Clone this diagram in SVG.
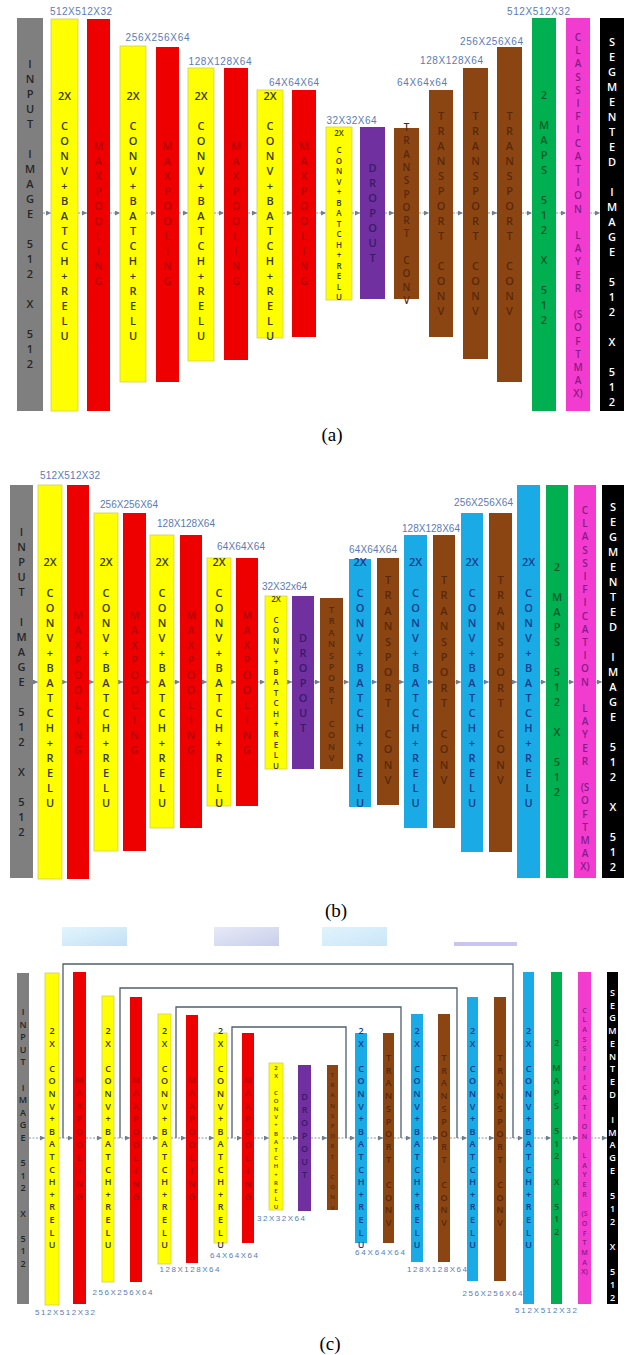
<svg xmlns="http://www.w3.org/2000/svg" width="635" height="1355" viewBox="0 0 635 1355">
<style>
.gry{fill:#7f7f7f}.yel{fill:#ffff00;stroke:#cfcf55;stroke-width:0.8}.red{fill:#ee0000}.pur{fill:#7030a0}.brn{fill:#8b4513}.blu{fill:#1aabe6}.grn{fill:#00b050}.mag{fill:#f23ccf}.blk{fill:#000}
.L{font-family:"Open Sans","Liberation Sans",sans-serif;font-weight:600;text-anchor:middle}
.s11{font-size:11px}.s10{font-size:10px}.s9{font-size:9px}.s8{font-size:8px}.s7{font-size:7px}.s6{font-size:6px}
.cg{fill:#262626}.cy{fill:#3a3a12}.cr{fill:#b80000}.cp{fill:#3a1a6a}.cb{fill:#5a2808}.cl{fill:#123c8c}.cn{fill:#0a5a2a}.cm{fill:#8a1a8a}.cw{fill:#ffffff}
.dim{font-family:"Liberation Sans",sans-serif;font-size:10px;fill:#5b7bb5;text-anchor:middle}
.dimc{font-family:"Liberation Sans",sans-serif;font-size:8px;fill:#5b7bb5;text-anchor:middle}
.cap{font-family:"Liberation Serif",serif;font-size:19px;fill:#000;text-anchor:middle}
.fl{stroke:#8a98a8;stroke-width:1;stroke-dasharray:2 1.5;fill:none;marker-end:url(#ah)}
.sk{stroke:#4f5f70;stroke-width:1.3;fill:none}
</style>
<defs>
<marker id="ah" viewBox="0 0 6 6" refX="6" refY="3" markerWidth="5" markerHeight="5" markerUnits="userSpaceOnUse" orient="auto"><path d="M0,0L6,3L0,6z" fill="#6f7f90"/></marker>
<linearGradient id="g1" x1="0" y1="0" x2="1" y2="1"><stop offset="0" stop-color="#e2f5fd"/><stop offset="1" stop-color="#c4e0f5"/></linearGradient>
<linearGradient id="g2" x1="0" y1="0" x2="1" y2="1"><stop offset="0" stop-color="#e6e9f6"/><stop offset="1" stop-color="#c9cfec"/></linearGradient>
<linearGradient id="g3" x1="0" y1="0" x2="1" y2="1"><stop offset="0" stop-color="#e0f3fc"/><stop offset="1" stop-color="#cbe6f8"/></linearGradient>
</defs>
<rect width="635" height="1355" fill="#fff"/>

<g id="connectors">
<g id="flow-a">
<line class="fl" x1="43" y1="213" x2="51" y2="213"/><line class="fl" x1="78" y1="213" x2="87" y2="213"/><line class="fl" x1="110" y1="213" x2="120" y2="213"/><line class="fl" x1="146" y1="213" x2="156" y2="213"/><line class="fl" x1="179" y1="213" x2="188" y2="213"/><line class="fl" x1="214" y1="213" x2="224" y2="213"/><line class="fl" x1="248" y1="213" x2="257" y2="213"/><line class="fl" x1="283" y1="213" x2="292" y2="213"/><line class="fl" x1="316" y1="213" x2="326" y2="213"/><line class="fl" x1="352" y1="213" x2="360" y2="213"/><line class="fl" x1="385" y1="213" x2="394" y2="213"/><line class="fl" x1="419" y1="213" x2="429" y2="213"/><line class="fl" x1="453" y1="213" x2="463" y2="213"/><line class="fl" x1="488" y1="213" x2="497" y2="213"/><line class="fl" x1="522" y1="213" x2="532" y2="213"/><line class="fl" x1="556" y1="213" x2="566" y2="213"/><line class="fl" x1="590" y1="213" x2="600" y2="213"/>
</g>
<g id="flow-b">
<line class="fl" x1="33" y1="682" x2="38" y2="682"/><line class="fl" x1="62" y1="682" x2="67" y2="682"/><line class="fl" x1="89" y1="682" x2="94" y2="682"/><line class="fl" x1="118" y1="682" x2="123" y2="682"/><line class="fl" x1="146" y1="682" x2="150" y2="682"/><line class="fl" x1="174" y1="682" x2="180" y2="682"/><line class="fl" x1="202" y1="682" x2="207" y2="682"/><line class="fl" x1="231" y1="682" x2="236" y2="682"/><line class="fl" x1="258" y1="682" x2="265" y2="682"/><line class="fl" x1="287" y1="682" x2="292" y2="682"/><line class="fl" x1="314" y1="682" x2="320" y2="682"/><line class="fl" x1="343" y1="682" x2="349" y2="682"/><line class="fl" x1="371" y1="682" x2="377" y2="682"/><line class="fl" x1="399" y1="682" x2="404" y2="682"/><line class="fl" x1="427" y1="682" x2="433" y2="682"/><line class="fl" x1="455" y1="682" x2="461" y2="682"/><line class="fl" x1="483" y1="682" x2="489" y2="682"/><line class="fl" x1="512" y1="682" x2="517" y2="682"/><line class="fl" x1="540" y1="682" x2="546" y2="682"/><line class="fl" x1="568" y1="682" x2="574" y2="682"/><line class="fl" x1="596" y1="682" x2="602" y2="682"/>
</g>
<g id="flow-c">
<line class="fl" x1="29" y1="1138" x2="45" y2="1138"/><line class="fl" x1="59" y1="1138" x2="73" y2="1138"/><line class="fl" x1="86" y1="1138" x2="102" y2="1138"/><line class="fl" x1="114" y1="1138" x2="130" y2="1138"/><line class="fl" x1="142" y1="1138" x2="158" y2="1138"/><line class="fl" x1="171" y1="1138" x2="186" y2="1138"/><line class="fl" x1="198" y1="1138" x2="214" y2="1138"/><line class="fl" x1="227" y1="1138" x2="242" y2="1138"/><line class="fl" x1="254" y1="1138" x2="269" y2="1138"/><line class="fl" x1="283" y1="1138" x2="298" y2="1138"/><line class="fl" x1="311" y1="1138" x2="327" y2="1138"/><line class="fl" x1="338" y1="1138" x2="355" y2="1138"/><line class="fl" x1="367" y1="1138" x2="383" y2="1138"/><line class="fl" x1="394" y1="1138" x2="411" y2="1138"/><line class="fl" x1="423" y1="1138" x2="438" y2="1138"/><line class="fl" x1="450" y1="1138" x2="467" y2="1138"/><line class="fl" x1="478" y1="1138" x2="494" y2="1138"/><line class="fl" x1="506" y1="1138" x2="523" y2="1138"/><line class="fl" x1="534" y1="1138" x2="551" y2="1138"/><line class="fl" x1="562" y1="1138" x2="578" y2="1138"/><line class="fl" x1="591" y1="1138" x2="607" y2="1138"/>
</g>
<g id="skips-c">
<path class="sk" d="M63 1138V964H513V1138"/>
<path class="sk" d="M120 1138V988H457V1138"/>
<path class="sk" d="M176 1138V1007H401V1138"/>
<path class="sk" d="M232 1138V1027H346V1138"/>
</g>
</g>

<!-- ===== Panel (a) ===== -->
<g id="a-input"><rect class="gry" x="17" y="18" width="26" height="393"/><text class="L s11 cg" transform="translate(30)" x="0 0 0 0 0 0 0 0 0 0 0 0 0 0 0 0 0 0 0 0 0 0 0 0" y="68 83 98 113 128 158 173 188 203 218 248 263 278 308 338 353 368">INPUTIMAGE512X512</text></g>
<g id="a-conv1"><rect class="yel" x="51" y="19" width="27" height="392"/><text class="L s11 cy" x="64.5" y="100">2X</text><text class="L s11 cy" transform="translate(64.5)" x="0 0 0 0 0 0 0 0 0 0 0 0 0 0 0 0 0 0 0 0 0 0 0 0" y="130 145 160 175 190 205 220 235 250 265 280 295 310 325 340">CONV+BATCH+RELU</text></g>
<g id="a-pool1"><rect class="red" x="87" y="19" width="23" height="392"/><text class="L s11 cr" transform="translate(98.5)" x="0 0 0 0 0 0 0 0 0 0 0 0 0 0 0 0 0 0 0 0 0 0 0 0" y="150 165 180 195 210 225 240 255 270 285">MAXPOOLING</text></g>
<g id="a-conv2"><rect class="yel" x="120" y="46" width="26" height="336"/><text class="L s11 cy" x="133" y="100">2X</text><text class="L s11 cy" transform="translate(133)" x="0 0 0 0 0 0 0 0 0 0 0 0 0 0 0 0 0 0 0 0 0 0 0 0" y="130 145 160 175 190 205 220 235 250 265 280 295 310 325 340">CONV+BATCH+RELU</text></g>
<g id="a-pool2"><rect class="red" x="156" y="47" width="23" height="335"/><text class="L s11 cr" transform="translate(167.5)" x="0 0 0 0 0 0 0 0 0 0 0 0 0 0 0 0 0 0 0 0 0 0 0 0" y="150 165 180 195 210 225 240 255 270 285">MAXPOOLING</text></g>
<g id="a-conv3"><rect class="yel" x="188" y="68" width="26" height="293"/><text class="L s11 cy" x="201" y="100">2X</text><text class="L s11 cy" transform="translate(201)" x="0 0 0 0 0 0 0 0 0 0 0 0 0 0 0 0 0 0 0 0 0 0 0 0" y="130 145 160 175 190 205 220 235 250 265 280 295 310 325 340">CONV+BATCH+RELU</text></g>
<g id="a-pool3"><rect class="red" x="224" y="68" width="24" height="292"/><text class="L s11 cr" transform="translate(236)" x="0 0 0 0 0 0 0 0 0 0 0 0 0 0 0 0 0 0 0 0 0 0 0 0" y="150 165 180 195 210 225 240 255 270 285">MAXPOOLING</text></g>
<g id="a-conv4"><rect class="yel" x="257" y="90" width="26" height="248"/><text class="L s11 cy" x="270" y="100">2X</text><text class="L s11 cy" transform="translate(270)" x="0 0 0 0 0 0 0 0 0 0 0 0 0 0 0 0 0 0 0 0 0 0 0 0" y="130 145 160 175 190 205 220 235 250 265 280 295 310 325 340">CONV+BATCH+RELU</text></g>
<g id="a-pool4"><rect class="red" x="292" y="90" width="24" height="247"/><text class="L s11 cr" transform="translate(304)" x="0 0 0 0 0 0 0 0 0 0 0 0 0 0 0 0 0 0 0 0 0 0 0 0" y="150 165 180 195 210 225 240 255 270 285">MAXPOOLING</text></g>
<g id="a-conv5"><rect class="yel" x="326" y="127" width="26" height="173"/><text class="L s8 cy" x="339" y="136">2X</text><text class="L s8 cy" transform="translate(339)" x="0 0 0 0 0 0 0 0 0 0 0 0 0 0 0 0 0 0 0 0 0 0 0 0" y="153 163.5 174 184.5 195 205.5 216 226.5 237 247.5 258 268.5 279 289.5 300">CONV+BATCH+RELU</text></g>
<g id="a-drop"><rect class="pur" x="360" y="127" width="25" height="172"/><text class="L s11 cp" transform="translate(372.5)" x="0 0 0 0 0 0 0 0 0 0 0 0 0 0 0 0 0 0 0 0 0 0 0 0" y="172 187 202 217 232 247 262">DROPOUT</text></g>
<g id="a-tconv1"><rect class="brn" x="394" y="128" width="25" height="171"/><text class="L s10 cb" transform="translate(406.5)" x="0 0 0 0 0 0 0 0 0 0 0 0 0 0 0 0 0 0 0 0 0 0 0 0" y="131 144.3 157.6 170.9 184.2 197.5 210.8 224.1 237.4 264 277.3 290.6 303.9">TRANSPORTCONV</text></g>
<g id="a-tconv2"><rect class="brn" x="429" y="90" width="24" height="247"/><text class="L s11 cb" transform="translate(441)" x="0 0 0 0 0 0 0 0 0 0 0 0 0 0 0 0 0 0 0 0 0 0 0 0" y="120 135 150 165 180 195 210 225 240 270 285 300 315">TRANSPORTCONV</text></g>
<g id="a-tconv3"><rect class="brn" x="463" y="68" width="25" height="291"/><text class="L s11 cb" transform="translate(475.5)" x="0 0 0 0 0 0 0 0 0 0 0 0 0 0 0 0 0 0 0 0 0 0 0 0" y="120 135 150 165 180 195 210 225 240 270 285 300 315">TRANSPORTCONV</text></g>
<g id="a-tconv4"><rect class="brn" x="497" y="47" width="25" height="335"/><text class="L s11 cb" transform="translate(509.5)" x="0 0 0 0 0 0 0 0 0 0 0 0 0 0 0 0 0 0 0 0 0 0 0 0" y="120 135 150 165 180 195 210 225 240 270 285 300 315">TRANSPORTCONV</text></g>
<g id="a-maps"><rect class="grn" x="532" y="18" width="24" height="393"/><text class="L s11 cn" transform="translate(544)" x="0 0 0 0 0 0 0 0 0 0 0 0 0 0 0 0 0 0 0 0 0 0 0 0" y="99 129 144 159 174 204 219 234 264 294 309 324">2MAPS512X512</text></g>
<g id="a-cls"><rect class="mag" x="566" y="18" width="24" height="393"/><text class="L s10 cm" transform="translate(578)" x="0 0 0 0 0 0 0 0 0 0 0 0 0 0 0 0 0 0 0 0 0 0 0 0" y="41 54.2 67.4 80.6 93.8 107 120.2 133.4 146.6 159.8 173 186.2 199.4 212.6 239 252.2 265.4 278.6 291.8">CLASSIFICATIONLAYER</text><text class="L s10 cm" x="578" y="318.2">(S</text><text class="L s10 cm" transform="translate(578)" x="0 0 0 0 0 0" y="331.4 344.6 357.8 371 384.2">OFTMA</text><text class="L s10 cm" x="578" y="397.4">X)</text></g>
<g id="a-out"><rect class="blk" x="600" y="18" width="24" height="393"/><text class="L s11 cw" transform="translate(612)" x="0 0 0 0 0 0 0 0 0 0 0 0 0 0 0 0 0 0 0 0 0 0 0 0" y="46 61 76 91 106 121 136 151 166 196 211 226 241 256 286 301 316 346 376 391 406">SEGMENTEDIMAGE512X512</text></g>
<g id="a-dims">
<text class="dim" x="81" y="15" textLength="62">512X512X32</text>
<text class="dim" x="157.5" y="41" textLength="64">256X256X64</text>
<text class="dim" x="220" y="65" textLength="63">128X128X64</text>
<text class="dim" x="294" y="86" textLength="50">64X64X64</text>
<text class="dim" x="351.5" y="124" textLength="50">32X32X64</text>
<text class="dim" x="422" y="86" textLength="50">64X64x64</text>
<text class="dim" x="451.5" y="64" textLength="63">128X128X64</text>
<text class="dim" x="491.5" y="45" textLength="63">256X256X64</text>
<text class="dim" x="538.5" y="15" textLength="63">512X512X32</text>
</g>
<text class="cap" x="332" y="441">(a)</text>

<!-- ===== Panel (b) ===== -->
<g id="b-input"><rect class="gry" x="10" y="485" width="23" height="393"/><text class="L s11 cg" transform="translate(21.5)" x="0 0 0 0 0 0 0 0 0 0 0 0 0 0 0 0 0 0 0 0 0 0 0 0" y="536 551 566 581 596 626 641 656 671 686 716 731 746 776 806 821 836">INPUTIMAGE512X512</text></g>
<g id="b-conv1"><rect class="yel" x="38" y="485" width="24" height="394"/><text class="L s11 cy" x="50" y="566">2X</text><text class="L s11 cy" transform="translate(50)" x="0 0 0 0 0 0 0 0 0 0 0 0 0 0 0 0 0 0 0 0 0 0 0 0" y="597 612 627 642 657 672 687 702 717 732 747 762 777 792 807">CONV+BATCH+RELU</text></g>
<g id="b-pool1"><rect class="red" x="67" y="485" width="22" height="394"/><text class="L s11 cr" transform="translate(78)" x="0 0 0 0 0 0 0 0 0 0 0 0 0 0 0 0 0 0 0 0 0 0 0 0" y="619 634 649 664 679 694 709 724 739 754">MAXPOOLING</text></g>
<g id="b-conv2"><rect class="yel" x="94" y="513" width="24" height="338"/><text class="L s11 cy" x="106" y="566">2X</text><text class="L s11 cy" transform="translate(106)" x="0 0 0 0 0 0 0 0 0 0 0 0 0 0 0 0 0 0 0 0 0 0 0 0" y="597 612 627 642 657 672 687 702 717 732 747 762 777 792 807">CONV+BATCH+RELU</text></g>
<g id="b-pool2"><rect class="red" x="123" y="513" width="23" height="338"/><text class="L s11 cr" transform="translate(134.5)" x="0 0 0 0 0 0 0 0 0 0 0 0 0 0 0 0 0 0 0 0 0 0 0 0" y="619 634 649 664 679 694 709 724 739 754">MAXPOOLING</text></g>
<g id="b-conv3"><rect class="yel" x="150" y="535" width="24" height="293"/><text class="L s11 cy" x="162" y="566">2X</text><text class="L s11 cy" transform="translate(162)" x="0 0 0 0 0 0 0 0 0 0 0 0 0 0 0 0 0 0 0 0 0 0 0 0" y="597 612 627 642 657 672 687 702 717 732 747 762 777 792 807">CONV+BATCH+RELU</text></g>
<g id="b-pool3"><rect class="red" x="180" y="535" width="22" height="293"/><text class="L s11 cr" transform="translate(191)" x="0 0 0 0 0 0 0 0 0 0 0 0 0 0 0 0 0 0 0 0 0 0 0 0" y="619 634 649 664 679 694 709 724 739 754">MAXPOOLING</text></g>
<g id="b-conv4"><rect class="yel" x="207" y="558" width="24" height="248"/><text class="L s11 cy" x="219" y="566">2X</text><text class="L s11 cy" transform="translate(219)" x="0 0 0 0 0 0 0 0 0 0 0 0 0 0 0 0 0 0 0 0 0 0 0 0" y="597 612 627 642 657 672 687 702 717 732 747 762 777 792 807">CONV+BATCH+RELU</text></g>
<g id="b-pool4"><rect class="red" x="236" y="558" width="22" height="248"/><text class="L s11 cr" transform="translate(247)" x="0 0 0 0 0 0 0 0 0 0 0 0 0 0 0 0 0 0 0 0 0 0 0 0" y="619 634 649 664 679 694 709 724 739 754">MAXPOOLING</text></g>
<g id="b-conv5"><rect class="yel" x="265" y="596" width="22" height="173"/><text class="L s8 cy" x="276" y="602">2X</text><text class="L s8 cy" transform="translate(276)" x="0 0 0 0 0 0 0 0 0 0 0 0 0 0 0 0 0 0 0 0 0 0 0 0" y="623 633.4 643.8 654.2 664.6 675 685.4 695.8 706.2 716.6 727 737.4 747.8 758.2 768.6">CONV+BATCH+RELU</text></g>
<g id="b-drop"><rect class="pur" x="292" y="596" width="22" height="173"/><text class="L s11 cp" transform="translate(303)" x="0 0 0 0 0 0 0 0 0 0 0 0 0 0 0 0 0 0 0 0 0 0 0 0" y="642 657 672 687 702 717 732">DROPOUT</text></g>
<g id="b-tconv1"><rect class="brn" x="320" y="598" width="23" height="171"/><text class="L s9 cb" transform="translate(331.5)" x="0 0 0 0 0 0 0 0 0 0 0 0 0 0 0 0 0 0 0 0 0 0 0 0" y="613 624.4 635.8 647.2 658.6 670 681.4 692.8 704.2 727 738.4 749.8 761.2">TRANSPORTCONV</text></g>
<g id="b-conv6"><rect class="blu" x="349" y="559" width="22" height="248"/><text class="L s11 cl" x="360" y="566">2X</text><text class="L s11 cl" transform="translate(360)" x="0 0 0 0 0 0 0 0 0 0 0 0 0 0 0 0 0 0 0 0 0 0 0 0" y="597 612 627 642 657 672 687 702 717 732 747 762 777 792 807">CONV+BATCH+RELU</text></g>
<g id="b-tconv2"><rect class="brn" x="377" y="558" width="22" height="247"/><text class="L s11 cb" transform="translate(388)" x="0 0 0 0 0 0 0 0 0 0 0 0 0 0 0 0 0 0 0 0 0 0 0 0" y="584 599.4 614.8 630.2 645.6 661 676.4 691.8 707.2 738 753.4 768.8 784.2">TRANSPORTCONV</text></g>
<g id="b-conv7"><rect class="blu" x="404" y="535" width="23" height="293"/><text class="L s11 cl" x="415.5" y="566">2X</text><text class="L s11 cl" transform="translate(415.5)" x="0 0 0 0 0 0 0 0 0 0 0 0 0 0 0 0 0 0 0 0 0 0 0 0" y="597 612 627 642 657 672 687 702 717 732 747 762 777 792 807">CONV+BATCH+RELU</text></g>
<g id="b-tconv3"><rect class="brn" x="433" y="535" width="22" height="293"/><text class="L s11 cb" transform="translate(444)" x="0 0 0 0 0 0 0 0 0 0 0 0 0 0 0 0 0 0 0 0 0 0 0 0" y="584 599.4 614.8 630.2 645.6 661 676.4 691.8 707.2 738 753.4 768.8 784.2">TRANSPORTCONV</text></g>
<g id="b-conv8"><rect class="blu" x="461" y="513" width="22" height="339"/><text class="L s11 cl" x="472" y="566">2X</text><text class="L s11 cl" transform="translate(472)" x="0 0 0 0 0 0 0 0 0 0 0 0 0 0 0 0 0 0 0 0 0 0 0 0" y="597 612 627 642 657 672 687 702 717 732 747 762 777 792 807">CONV+BATCH+RELU</text></g>
<g id="b-tconv4"><rect class="brn" x="489" y="513" width="23" height="339"/><text class="L s11 cb" transform="translate(500.5)" x="0 0 0 0 0 0 0 0 0 0 0 0 0 0 0 0 0 0 0 0 0 0 0 0" y="584 599.4 614.8 630.2 645.6 661 676.4 691.8 707.2 738 753.4 768.8 784.2">TRANSPORTCONV</text></g>
<g id="b-conv9"><rect class="blu" x="517" y="485" width="23" height="393"/><text class="L s11 cl" x="528.5" y="566">2X</text><text class="L s11 cl" transform="translate(528.5)" x="0 0 0 0 0 0 0 0 0 0 0 0 0 0 0 0 0 0 0 0 0 0 0 0" y="597 612 627 642 657 672 687 702 717 732 747 762 777 792 807">CONV+BATCH+RELU</text></g>
<g id="b-maps"><rect class="grn" x="546" y="485" width="22" height="393"/><text class="L s11 cn" transform="translate(557)" x="0 0 0 0 0 0 0 0 0 0 0 0 0 0 0 0 0 0 0 0 0 0 0 0" y="571 601 616 631 646 676 691 706 736 766 781 796">2MAPS512X512</text></g>
<g id="b-cls"><rect class="mag" x="574" y="485" width="22" height="393"/><text class="L s10 cm" transform="translate(585)" x="0 0 0 0 0 0 0 0 0 0 0 0 0 0 0 0 0 0 0 0 0 0 0 0" y="514 527.2 540.4 553.6 566.8 580 593.2 606.4 619.6 632.8 646 659.2 672.4 685.6 712 725.2 738.4 751.6 764.8">CLASSIFICATIONLAYER</text><text class="L s10 cm" x="585" y="791.2">(S</text><text class="L s10 cm" transform="translate(585)" x="0 0 0 0 0 0" y="804.4 817.6 830.8 844 857.2">OFTMA</text><text class="L s10 cm" x="585" y="870.4">X)</text></g>
<g id="b-out"><rect class="blk" x="602" y="485" width="22" height="393"/><text class="L s11 cw" transform="translate(613)" x="0 0 0 0 0 0 0 0 0 0 0 0 0 0 0 0 0 0 0 0 0 0 0 0" y="511 526 541 556 571 586 601 616 631 661 676 691 706 721 751 766 781 811 841 856 871">SEGMENTEDIMAGE512X512</text></g>
<g id="b-dims">
<text class="dim" x="70" y="479" textLength="60">512X512X32</text>
<text class="dim" x="129" y="508" textLength="58">256X256X64</text>
<text class="dim" x="186" y="527" textLength="58">128X128X64</text>
<text class="dim" x="241" y="550" textLength="48">64X64X64</text>
<text class="dim" x="284.5" y="590" textLength="45">32X32x64</text>
<text class="dim" x="373" y="553" textLength="48">64X64X64</text>
<text class="dim" x="431" y="532" textLength="58">128X128X64</text>
<text class="dim" x="483.5" y="506" textLength="59">256X256X64</text>
</g>
<text class="cap" x="336" y="917">(b)</text>

<!-- ===== Panel (c) ===== -->
<g id="c-legend">
<rect x="62" y="927" width="65" height="19" fill="url(#g1)"/>
<rect x="214" y="927" width="65" height="19" fill="url(#g2)"/>
<rect x="322" y="927" width="65" height="19" fill="url(#g3)"/>
<rect x="454" y="942" width="63" height="4" fill="#c9c5ee"/>
</g>
<g id="c-input"><rect class="gry" x="17" y="973" width="12" height="331"/><text class="L s9 cg" transform="translate(23)" x="0 0 0 0 0 0 0 0 0 0 0 0 0 0 0 0 0 0 0 0 0 0 0 0" y="1015 1027.6 1040.2 1052.8 1065.4 1090.6 1103.2 1115.8 1128.4 1141 1166.2 1178.8 1191.4 1216.6 1241.8 1254.4 1267">INPUTIMAGE512X512</text></g>
<g id="c-conv1"><rect class="yel" x="45" y="973" width="14" height="332"/><text class="L s9 cy" transform="translate(52)" x="0 0 0 0 0 0 0 0 0 0 0 0 0 0 0 0 0 0 0 0 0 0 0 0" y="1034 1046.6 1071.8 1084.4 1097 1109.6 1122.2 1134.8 1147.4 1160 1172.6 1185.2 1197.8 1210.4 1223 1235.6 1248.2">2XCONV+BATCH+RELU</text></g>
<g id="c-pool1"><rect class="red" x="73" y="972" width="13" height="332"/><text class="L s9 cr" transform="translate(79.5)" x="0 0 0 0 0 0 0 0 0 0 0 0 0 0 0 0 0 0 0 0 0 0 0 0" y="1083 1096 1109 1122 1135 1148 1161 1174 1187 1200">MAXPOOLING</text></g>
<g id="c-conv2"><rect class="yel" x="102" y="996" width="12" height="286"/><text class="L s9 cy" transform="translate(108)" x="0 0 0 0 0 0 0 0 0 0 0 0 0 0 0 0 0 0 0 0 0 0 0 0" y="1034 1046.6 1071.8 1084.4 1097 1109.6 1122.2 1134.8 1147.4 1160 1172.6 1185.2 1197.8 1210.4 1223 1235.6 1248.2">2XCONV+BATCH+RELU</text></g>
<g id="c-pool2"><rect class="red" x="130" y="997" width="12" height="285"/><text class="L s9 cr" transform="translate(136)" x="0 0 0 0 0 0 0 0 0 0 0 0 0 0 0 0 0 0 0 0 0 0 0 0" y="1083 1096 1109 1122 1135 1148 1161 1174 1187 1200">MAXPOOLING</text></g>
<g id="c-conv3"><rect class="yel" x="158" y="1014" width="13" height="250"/><text class="L s9 cy" transform="translate(164.5)" x="0 0 0 0 0 0 0 0 0 0 0 0 0 0 0 0 0 0 0 0 0 0 0 0" y="1034 1046.6 1071.8 1084.4 1097 1109.6 1122.2 1134.8 1147.4 1160 1172.6 1185.2 1197.8 1210.4 1223 1235.6 1248.2">2XCONV+BATCH+RELU</text></g>
<g id="c-pool3"><rect class="red" x="186" y="1015" width="12" height="248"/><text class="L s9 cr" transform="translate(192)" x="0 0 0 0 0 0 0 0 0 0 0 0 0 0 0 0 0 0 0 0 0 0 0 0" y="1083 1096 1109 1122 1135 1148 1161 1174 1187 1200">MAXPOOLING</text></g>
<g id="c-conv4"><rect class="yel" x="214" y="1033" width="13" height="210"/><text class="L s9 cy" transform="translate(220.5)" x="0 0 0 0 0 0 0 0 0 0 0 0 0 0 0 0 0 0 0 0 0 0 0 0" y="1034 1046.6 1071.8 1084.4 1097 1109.6 1122.2 1134.8 1147.4 1160 1172.6 1185.2 1197.8 1210.4 1223 1235.6 1248.2">2XCONV+BATCH+RELU</text></g>
<g id="c-pool4"><rect class="red" x="242" y="1033" width="12" height="210"/><text class="L s9 cr" transform="translate(248)" x="0 0 0 0 0 0 0 0 0 0 0 0 0 0 0 0 0 0 0 0 0 0 0 0" y="1083 1096 1109 1122 1135 1148 1161 1174 1187 1200">MAXPOOLING</text></g>
<g id="c-conv5"><rect class="yel" x="269" y="1063" width="14" height="147"/><text class="L s6 cy" transform="translate(276)" x="0 0 0 0 0 0 0 0 0 0 0 0 0 0 0 0 0 0 0 0 0 0 0 0" y="1070 1078.2 1094.6 1102.8 1111 1119.2 1127.4 1135.6 1143.8 1152 1160.2 1168.4 1176.6 1184.8 1193 1201.2 1209.4">2XCONV+BATCH+RELU</text></g>
<g id="c-drop"><rect class="pur" x="298" y="1065" width="13" height="146"/><text class="L s9 cp" transform="translate(304.5)" x="0 0 0 0 0 0 0 0 0 0 0 0 0 0 0 0 0 0 0 0 0 0 0 0" y="1100 1113 1126 1139 1152 1165 1178">DROPOUT</text></g>
<g id="c-tconv1"><rect class="brn" x="327" y="1065" width="11" height="145"/><text class="L s6 cb" transform="translate(332.5)" x="0 0 0 0 0 0 0 0 0 0 0 0 0 0 0 0 0 0 0 0 0 0 0 0" y="1077 1087.2 1097.4 1107.6 1117.8 1128 1138.2 1148.4 1158.6 1179 1189.2 1199.4 1209.6">TRANSPORTCONV</text></g>
<g id="c-conv6"><rect class="blu" x="355" y="1033" width="12" height="210"/><text class="L s9 cl" transform="translate(361)" x="0 0 0 0 0 0 0 0 0 0 0 0 0 0 0 0 0 0 0 0 0 0 0 0" y="1034 1046.6 1071.8 1084.4 1097 1109.6 1122.2 1134.8 1147.4 1160 1172.6 1185.2 1197.8 1210.4 1223 1235.6 1248.2">2XCONV+BATCH+RELU</text></g>
<g id="c-tconv2"><rect class="brn" x="383" y="1033" width="11" height="210"/><text class="L s9 cb" transform="translate(388.5)" x="0 0 0 0 0 0 0 0 0 0 0 0 0 0 0 0 0 0 0 0 0 0 0 0" y="1061 1073.7 1086.4 1099.1 1111.8 1124.5 1137.2 1149.9 1162.6 1188 1200.7 1213.4 1226.1">TRANSPORTCONV</text></g>
<g id="c-conv7"><rect class="blu" x="411" y="1014" width="12" height="248"/><text class="L s9 cl" transform="translate(417)" x="0 0 0 0 0 0 0 0 0 0 0 0 0 0 0 0 0 0 0 0 0 0 0 0" y="1034 1046.6 1071.8 1084.4 1097 1109.6 1122.2 1134.8 1147.4 1160 1172.6 1185.2 1197.8 1210.4 1223 1235.6 1248.2">2XCONV+BATCH+RELU</text></g>
<g id="c-tconv3"><rect class="brn" x="438" y="1014" width="12" height="248"/><text class="L s9 cb" transform="translate(444)" x="0 0 0 0 0 0 0 0 0 0 0 0 0 0 0 0 0 0 0 0 0 0 0 0" y="1061 1073.7 1086.4 1099.1 1111.8 1124.5 1137.2 1149.9 1162.6 1188 1200.7 1213.4 1226.1">TRANSPORTCONV</text></g>
<g id="c-conv8"><rect class="blu" x="467" y="997" width="11" height="284"/><text class="L s9 cl" transform="translate(472.5)" x="0 0 0 0 0 0 0 0 0 0 0 0 0 0 0 0 0 0 0 0 0 0 0 0" y="1034 1046.6 1071.8 1084.4 1097 1109.6 1122.2 1134.8 1147.4 1160 1172.6 1185.2 1197.8 1210.4 1223 1235.6 1248.2">2XCONV+BATCH+RELU</text></g>
<g id="c-tconv4"><rect class="brn" x="494" y="997" width="12" height="284"/><text class="L s9 cb" transform="translate(500)" x="0 0 0 0 0 0 0 0 0 0 0 0 0 0 0 0 0 0 0 0 0 0 0 0" y="1061 1073.7 1086.4 1099.1 1111.8 1124.5 1137.2 1149.9 1162.6 1188 1200.7 1213.4 1226.1">TRANSPORTCONV</text></g>
<g id="c-conv9"><rect class="blu" x="523" y="972" width="11" height="332"/><text class="L s9 cl" transform="translate(528.5)" x="0 0 0 0 0 0 0 0 0 0 0 0 0 0 0 0 0 0 0 0 0 0 0 0" y="1034 1046.6 1071.8 1084.4 1097 1109.6 1122.2 1134.8 1147.4 1160 1172.6 1185.2 1197.8 1210.4 1223 1235.6 1248.2">2XCONV+BATCH+RELU</text></g>
<g id="c-maps"><rect class="grn" x="551" y="972" width="11" height="332"/><text class="L s9 cn" transform="translate(556.5)" x="0 0 0 0 0 0 0 0 0 0 0 0 0 0 0 0 0 0 0 0 0 0 0 0" y="1046 1071.2 1083.8 1096.4 1109 1134.2 1146.8 1159.4 1184.6 1209.8 1222.4 1235">2MAPS512X512</text></g>
<g id="c-cls"><rect class="mag" x="578" y="972" width="13" height="332"/><text class="L s7 cm" transform="translate(584.5)" x="0 0 0 0 0 0 0 0 0 0 0 0 0 0 0 0 0 0 0 0 0 0 0 0" y="1012.5 1022.2 1031.9 1041.6 1051.3 1061 1070.7 1080.4 1090.1 1099.8 1109.5 1119.2 1128.9 1138.6 1158 1167.7 1177.4 1187.1 1196.8">CLASSIFICATIONLAYER</text><text class="L s7 cm" x="584.5" y="1216.2">(S</text><text class="L s7 cm" transform="translate(584.5)" x="0 0 0 0 0 0" y="1225.9 1235.6 1245.3 1255 1264.7">OFTMA</text><text class="L s7 cm" x="584.5" y="1274.4">X)</text></g>
<g id="c-out"><rect class="blk" x="607" y="972" width="11" height="332"/><text class="L s9 cw" transform="translate(612.5)" x="0 0 0 0 0 0 0 0 0 0 0 0 0 0 0 0 0 0 0 0 0 0 0 0" y="996 1008.7 1021.4 1034.1 1046.8 1059.5 1072.2 1084.9 1097.6 1123 1135.7 1148.4 1161.1 1173.8 1199.2 1211.9 1224.6 1250 1275.4 1288.1 1300.8">SEGMENTEDIMAGE512X512</text></g>
<g id="c-dims">
<text class="dimc" x="65" y="1315" textLength="60">512X512X32</text>
<text class="dimc" x="122.5" y="1295" textLength="60">256X256X64</text>
<text class="dimc" x="189.5" y="1272" textLength="60">128X128X64</text>
<text class="dimc" x="234" y="1258" textLength="48">64X64X64</text>
<text class="dimc" x="281" y="1221" textLength="48">32X32X64</text>
<text class="dimc" x="380" y="1255" textLength="50">64X64X64</text>
<text class="dimc" x="437" y="1272" textLength="60">128X128X64</text>
<text class="dimc" x="492.5" y="1296" textLength="60">256X256X64</text>
<text class="dimc" x="546" y="1313" textLength="62">512X512X32</text>
</g>
<text class="cap" x="330" y="1350">(c)</text>
</svg>
